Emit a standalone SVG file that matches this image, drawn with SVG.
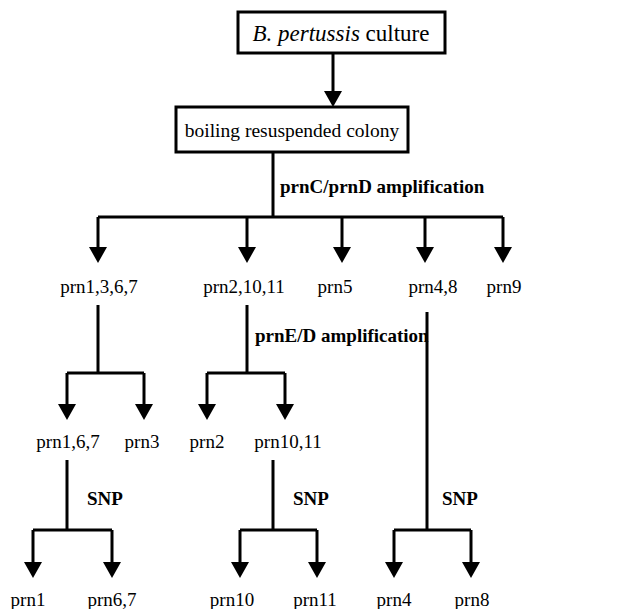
<svg xmlns="http://www.w3.org/2000/svg" width="639" height="609" viewBox="0 0 639 609">
<defs>
<marker id="ah" markerUnits="userSpaceOnUse" viewBox="0 0 16 18" refX="2" refY="9" markerWidth="16" markerHeight="18" orient="auto">
<path d="M0,0 L16,9 L0,18 z" fill="#000"/>
</marker>
<style>
text{font-family:'Liberation Serif','Times New Roman','DejaVu Serif',serif;font-size:19px;fill:#000}
.b{font-weight:bold}
.box{fill:#fff;stroke:#000;stroke-width:3}
.ln{fill:none;stroke:#000;stroke-width:3}
.ar{fill:none;stroke:#000;stroke-width:3;marker-end:url(#ah)}
</style>
</defs>
<rect width="639" height="609" fill="#fff"/>
<g font-family="Liberation Serif, Times New Roman, serif">
<g id="connectors">
<path class="ar" d="M333,53 V93"/>
<path class="ln" d="M273,152 V217 M98,217 H503"/>
<path class="ar" d="M98,217 V249"/>
<path class="ar" d="M247,217 V249"/>
<path class="ar" d="M342,217 V249"/>
<path class="ar" d="M425,217 V249"/>
<path class="ar" d="M503,217 V249"/>
<path class="ln" d="M98,305 V373 M67,373 H144"/>
<path class="ar" d="M67,373 V406"/>
<path class="ar" d="M144,373 V406"/>
<path class="ln" d="M247,305 V373 M207,373 H285"/>
<path class="ar" d="M207,373 V406"/>
<path class="ar" d="M285,373 V406"/>
<path class="ln" d="M427,312 V530 M394,530 H471"/>
<path class="ar" d="M394,530 V564"/>
<path class="ar" d="M471,530 V564"/>
<path class="ln" d="M67,460 V530 M33,530 H112"/>
<path class="ar" d="M33,530 V564"/>
<path class="ar" d="M112,530 V564"/>
<path class="ln" d="M273,460 V530 M240,530 H317"/>
<path class="ar" d="M240,530 V564"/>
<path class="ar" d="M317,530 V564"/>
<text class="b" x="280" y="193">prnC/prnD amplification</text>
<text class="b" x="255" y="342">prnE/D amplification</text>
<text class="b" x="87" y="505">SNP</text>
<text class="b" x="293" y="505">SNP</text>
<text class="b" x="442" y="505">SNP</text>
</g>
<g id="culture">
<rect class="box" x="238" y="12" width="207" height="41"/>
<text x="341" y="40.5" text-anchor="middle" style="font-size:23px"><tspan font-style="italic">B. pertussis</tspan> culture</text>
</g>
<g id="colony">
<rect class="box" x="176" y="107" width="232" height="45"/>
<text x="292" y="137" text-anchor="middle" style="font-size:19.5px">boiling resuspended colony</text>
</g>
<g id="n1367"><text x="99" y="293" text-anchor="middle">prn1,3,6,7</text></g>
<g id="n21011"><text x="244" y="293" text-anchor="middle">prn2,10,11</text></g>
<g id="n5"><text x="335" y="293" text-anchor="middle">prn5</text></g>
<g id="n48"><text x="433" y="293" text-anchor="middle">prn4,8</text></g>
<g id="n9"><text x="504" y="293" text-anchor="middle">prn9</text></g>
<g id="n167"><text x="68" y="448" text-anchor="middle">prn1,6,7</text></g>
<g id="n3"><text x="142" y="448" text-anchor="middle">prn3</text></g>
<g id="n2"><text x="207" y="448" text-anchor="middle">prn2</text></g>
<g id="n1011"><text x="288" y="448" text-anchor="middle">prn10,11</text></g>
<g id="n1"><text x="28" y="606" text-anchor="middle">prn1</text></g>
<g id="n67"><text x="112" y="606" text-anchor="middle">prn6,7</text></g>
<g id="n10"><text x="232" y="606" text-anchor="middle">prn10</text></g>
<g id="n11"><text x="315" y="606" text-anchor="middle">prn11</text></g>
<g id="n4"><text x="394" y="606" text-anchor="middle">prn4</text></g>
<g id="n8"><text x="472" y="606" text-anchor="middle">prn8</text></g>
</g>
</svg>
